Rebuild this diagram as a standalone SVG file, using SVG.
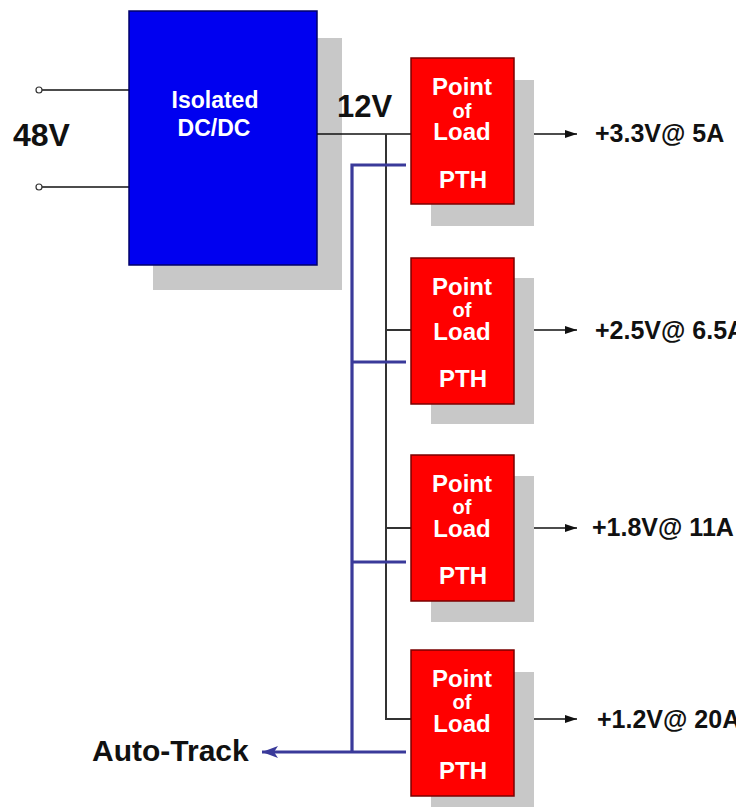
<svg xmlns="http://www.w3.org/2000/svg" width="736" height="807" viewBox="0 0 736 807">
<style>
.shadow{fill:#c8c8c8}
.pol{fill:#ff0000;stroke:#7a0000;stroke-width:1.5}
.iso{fill:#0000f0;stroke:#00006a;stroke-width:1.5}
.wt{fill:#ffffff;font-family:"Liberation Sans",Arial,sans-serif;font-weight:bold;text-anchor:middle}
.bt{fill:#111111;font-family:"Liberation Sans",Arial,sans-serif;font-weight:bold}
.wire{stroke:#111111;stroke-width:1.6;fill:none}
.bus{stroke:#333333;stroke-width:2;fill:none}
.trk{stroke:#3a3a9a;stroke-width:3.2;fill:none}
</style>
<defs>
<marker id="ah" markerWidth="12" markerHeight="8" refX="12" refY="4" orient="auto" markerUnits="userSpaceOnUse">
<path d="M0,0 L12,4 L0,8 Z" fill="#111111"/>
</marker>
<marker id="ahb" markerWidth="16" markerHeight="12" refX="16" refY="6" orient="auto" markerUnits="userSpaceOnUse">
<path d="M0,0 L16,6 L0,12 L4,6 Z" fill="#3a3a9a"/>
</marker>
</defs>
<rect width="736" height="807" fill="#ffffff"/>

<g id="input">
<line class="wire" x1="42" y1="90" x2="129" y2="90"/>
<line class="wire" x1="42" y1="187" x2="129" y2="187"/>
<circle cx="39" cy="90" r="3" fill="#fff" stroke="#333" stroke-width="1.2"/>
<circle cx="39" cy="187" r="3" fill="#fff" stroke="#333" stroke-width="1.2"/>
<text class="bt" x="13" y="146" font-size="32">48V</text>
</g>

<g id="isolated">
<rect class="shadow" x="153" y="38" width="189" height="252"/>
<rect class="iso" x="129" y="11" width="188" height="254"/>
<text class="wt" x="215" y="108" font-size="23">Isolated</text>
<text class="wt" x="214" y="136" font-size="23">DC/DC</text>
</g>

<g id="connectors">
<line class="wire" x1="317" y1="134" x2="411" y2="134"/>
<text class="bt" x="337" y="117" font-size="31">12V</text>
<polyline class="bus" points="386,134 386,719 411,719"/>
<line class="bus" x1="386" y1="330" x2="411" y2="330"/>
<line class="bus" x1="386" y1="528" x2="411" y2="528"/>
<polyline class="trk" points="406,165 352,165 352,752"/>
<line class="trk" x1="352" y1="362" x2="406" y2="362"/>
<line class="trk" x1="352" y1="562" x2="406" y2="562"/>
<line class="trk" x1="406" y1="752" x2="262" y2="752" marker-end="url(#ahb)"/>
<line class="wire" x1="515" y1="134" x2="577" y2="134" marker-end="url(#ah)"/>
<line class="wire" x1="515" y1="330" x2="577" y2="330" marker-end="url(#ah)"/>
<line class="wire" x1="515" y1="528" x2="577" y2="528" marker-end="url(#ah)"/>
<line class="wire" x1="515" y1="719" x2="577" y2="719" marker-end="url(#ah)"/>
</g>

<g id="pol1">
<rect class="shadow" x="431" y="80" width="103" height="146"/>
<rect class="pol" x="411" y="58" width="103" height="146"/>
<text class="wt" x="462" y="95" font-size="24">Point</text>
<text class="wt" x="462" y="118" font-size="20">of</text>
<text class="wt" x="462" y="140" font-size="24">Load</text>
<text class="wt" x="463" y="188" font-size="24">PTH</text>
</g>
<g id="pol2">
<rect class="shadow" x="431" y="278" width="103" height="146"/>
<rect class="pol" x="411" y="258" width="103" height="146"/>
<text class="wt" x="462" y="295" font-size="24">Point</text>
<text class="wt" x="462" y="317" font-size="20">of</text>
<text class="wt" x="462" y="340" font-size="24">Load</text>
<text class="wt" x="463" y="387" font-size="24">PTH</text>
</g>
<g id="pol3">
<rect class="shadow" x="431" y="476" width="103" height="146"/>
<rect class="pol" x="411" y="455" width="103" height="146"/>
<text class="wt" x="462" y="492" font-size="24">Point</text>
<text class="wt" x="462" y="514" font-size="20">of</text>
<text class="wt" x="462" y="537" font-size="24">Load</text>
<text class="wt" x="463" y="584" font-size="24">PTH</text>
</g>
<g id="pol4">
<rect class="shadow" x="431" y="672" width="103" height="146"/>
<rect class="pol" x="411" y="650" width="103" height="146"/>
<text class="wt" x="462" y="687" font-size="24">Point</text>
<text class="wt" x="462" y="709" font-size="20">of</text>
<text class="wt" x="462" y="732" font-size="24">Load</text>
<text class="wt" x="463" y="779" font-size="24">PTH</text>
</g>

<g id="outputs">
<text class="bt" x="595" y="142" font-size="25">+3.3V@ 5A</text>
<text class="bt" x="595" y="339" font-size="25">+2.5V@ 6.5A</text>
<text class="bt" x="592" y="536" font-size="25">+1.8V@ 11A</text>
<text class="bt" x="597" y="728" font-size="25">+1.2V@ 20A</text>
</g>

<g id="autotrack">
<text class="bt" x="92" y="761" font-size="30">Auto-Track</text>
</g>
</svg>
